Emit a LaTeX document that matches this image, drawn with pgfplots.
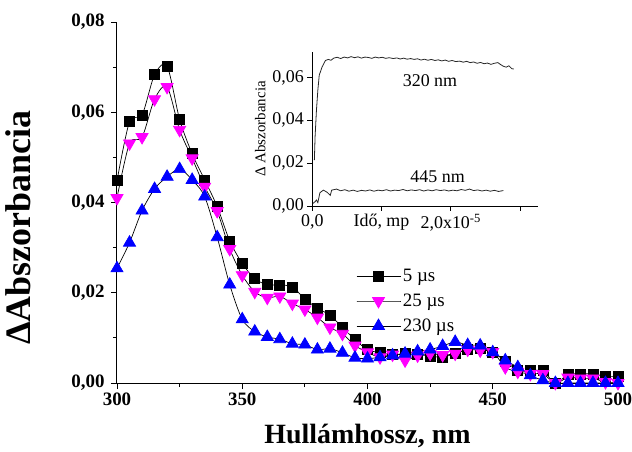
\documentclass[border=0pt]{standalone}
\usepackage{fontspec}
\setmainfont{Liberation Serif}
\usepackage{pgfplots}
\pgfplotsset{compat=1.18}
\definecolor{mag}{RGB}{255,0,255}
\definecolor{blu}{RGB}{0,0,255}
\pgfplotsset{longleg/.style={legend image code/.code={\draw[mark repeat=2, mark phase=2, ##1]
    plot coordinates {(0bp,0bp) (22bp,0bp) (44bp,0bp)};}}}

% spectra at 5, 25 and 230 us
\pgfplotstableread{
nm    a      b      c
300 0.0448 0.0410 0.0254
305 0.0579 0.0531 0.0311
310 0.0594 0.0545 0.0382
315 0.0683 0.0629 0.0430
320 0.0702 0.0656 0.0457
325 0.0584 0.0561 0.0474
330 0.0508 0.0498 0.0450
335 0.0450 0.0435 0.0413
340 0.0391 0.0381 0.0323
345 0.0315 0.0297 0.0218
350 0.0265 0.0239 0.0141
355 0.0231 0.0202 0.0114
360 0.0218 0.0189 0.0102
365 0.0217 0.0192 0.0097
370 0.0213 0.0176 0.0087
375 0.0186 0.0163 0.0085
380 0.0166 0.0145 0.0074
385 0.0150 0.0123 0.0076
390 0.0123 0.0109 0.0067
395 0.0096 0.0083 0.0056
400 0.0074 0.0068 0.0054
405 0.0067 0.0057 0.0057
410 0.0063 0.0063 0.0061
415 0.0065 0.0050 0.0065
420 0.0063 0.0061 0.0070
425 0.0060 0.0065 0.0074
430 0.0057 0.0062 0.0082
435 0.0066 0.0065 0.0091
440 0.0074 0.0074 0.0084
445 0.0077 0.0072 0.0083
450 0.0068 0.0069 0.0068
455 0.0049 0.0035 0.0050
460 0.0028 0.0025 0.0035
465 0.0027 0.0020 0.0017
470 0.0027 0.0020 0.0006
475 0.0000 0.0000 0.0000
480 0.0019 0.0012 0.0000
485 0.0020 0.0010 0.0000
490 0.0020 0.0010 0.0000
495 0.0015 0.0002 0.0000
500 0.0015 0.0000 0.0000
}\spectra

\begin{document}
\begin{tikzpicture}
% page frame: 632 x 452, main axis box from (117,22) to (618,383)
\useasboundingbox (-117bp,-69bp) rectangle (515bp,383bp);
\begin{axis}[
    name=main,
    scale only axis,
    width=501bp, height=361bp,
    xmin=300, xmax=500, ymin=0, ymax=0.08,
    axis x line*=bottom, axis y line*=left,
    axis line style={-, line width=1pt},
    tick align=outside,
    major tick length=6bp, minor tick length=4bp,
    tick style={black, line width=0.8pt},
    xtick={300,350,400,450,500},
    minor xtick={325,375,425,475},
    ytick={0,0.02,0.04,0.06,0.08},
    minor ytick={0.01,0.03,0.05,0.07},
    scaled y ticks=false,
    ticklabel style={font=\fontsize{19}{22}\selectfont\bfseries},
    yticklabel style={xshift=-3bp, /pgf/number format/.cd, fixed, fixed zerofill, precision=2, use comma, assume math mode=true},
    xticklabel style={/pgf/number format/assume math mode=true},
    xlabel={Hullámhossz, nm},
    ylabel={ΔAbszorbancia},
    xlabel style={at={(axis description cs:0.5,-0.147)}, anchor=center,
        font=\fontsize{28}{30}\selectfont\bfseries},
    ylabel style={at={(axis description cs:-0.198,0.43)}, anchor=center,
        font=\fontsize{36}{40}\selectfont\bfseries},
    legend style={draw=none, fill=none, at={(rel axis cs:0.471,0.327)}, anchor=north west,
        font=\fontsize{19}{23}\selectfont, row sep=7pt},
    legend cell align=left,
]
\addplot[black, line width=0.7pt, smooth, tension=0.5, longleg, mark=square*, mark size=5bp,
    mark options={solid, fill=black, draw=black}] table[x=nm, y=a] {\spectra};
\addlegendentry{5 µs}
\addplot[black, line width=0.7pt, smooth, tension=0.5, longleg, mark=triangle*, mark size=7bp,
    mark options={solid, fill=mag, draw=mag, rotate=180}] table[x=nm, y=b] {\spectra};
\addlegendentry{25 µs}
\addplot[black, line width=0.7pt, smooth, tension=0.5, longleg, mark=triangle*, mark size=7bp,
    mark options={solid, fill=blu, draw=blu}] table[x=nm, y=c] {\spectra};
\addlegendentry{230 µs}
\end{axis}

% inset: kinetic traces
\begin{axis}[
    at={(main.south west)}, anchor=south west,
    xshift=195.3bp, yshift=177bp,
    scale only axis,
    width=225.7bp, height=154.3bp,
    xmin=0, xmax=3.26, ymin=0, ymax=0.072,
    axis x line*=bottom, axis y line*=left,
    axis line style={-, line width=0.6pt},
    tick align=outside,
    major tick length=5bp,
    tick style={black, line width=0.6pt},
    xtick={0,1,2,3},
    xticklabels={0{,}0, Idő{,} mp, 2{,}0x10\textsuperscript{-5}, {}},
    ytick={0,0.02,0.04,0.06},
    scaled y ticks=false,
    ticklabel style={font=\fontsize{18}{20}\selectfont},
    yticklabel style={/pgf/number format/.cd, fixed, fixed zerofill, precision=2, use comma, assume math mode=true},
    ylabel={Δ Abszorbancia},
    ylabel style={font=\fontsize{15}{17}\selectfont},
]
\addplot[black!85, line width=0.8pt] coordinates {
(0.03,0.0214)(0.04,0.0322)(0.06,0.0447)(0.08,0.0540)(0.10,0.0610)(0.14,0.0648)
(0.19,0.0679)(0.23,0.0684)(0.27,0.0680)(0.31,0.0690)(0.36,0.0694)(0.41,0.0688)
(0.46,0.0695)(0.51,0.0691)(0.56,0.0697)(0.61,0.0692)(0.66,0.0696)(0.71,0.0690)
(0.76,0.0695)(0.81,0.0693)(0.86,0.0689)(0.91,0.0695)(0.96,0.0691)(1.01,0.0694)
(1.06,0.0689)(1.11,0.0692)(1.17,0.0688)(1.22,0.0691)(1.27,0.0686)(1.32,0.0690)
(1.37,0.0685)(1.42,0.0688)(1.47,0.0684)(1.52,0.0687)(1.57,0.0681)(1.62,0.0685)
(1.67,0.0680)(1.72,0.0684)(1.77,0.0679)(1.82,0.0682)(1.87,0.0677)(1.92,0.0681)
(1.97,0.0675)(2.02,0.0679)(2.07,0.0674)(2.13,0.0676)(2.18,0.0671)(2.23,0.0675)
(2.28,0.0669)(2.33,0.0672)(2.38,0.0666)(2.43,0.0670)(2.48,0.0664)(2.53,0.0667)
(2.58,0.0661)(2.63,0.0666)(2.68,0.0669)(2.72,0.0660)(2.76,0.0652)(2.80,0.0648)
(2.84,0.0654)(2.88,0.0641)(2.91,0.0639)
};
\addplot[black!85, line width=0.8pt] coordinates {
(0.01,0.0012)(0.04,0.0020)(0.06,0.0028)(0.08,0.0016)(0.11,0.0062)(0.16,0.0074)
(0.21,0.0065)(0.26,0.0050)(0.28,0.0074)(0.35,0.0079)(0.41,0.0071)(0.47,0.0076)
(0.53,0.0069)(0.59,0.0074)(0.65,0.0068)(0.71,0.0073)(0.77,0.0070)(0.83,0.0075)
(0.89,0.0069)(0.95,0.0074)(1.01,0.0071)(1.07,0.0076)(1.13,0.0070)(1.19,0.0074)
(1.25,0.0072)(1.31,0.0077)(1.37,0.0071)(1.43,0.0075)(1.49,0.0072)(1.55,0.0076)
(1.61,0.0070)(1.67,0.0075)(1.73,0.0071)(1.79,0.0076)(1.85,0.0072)(1.91,0.0075)
(1.97,0.0070)(2.03,0.0074)(2.09,0.0071)(2.15,0.0077)(2.21,0.0073)(2.27,0.0079)
(2.33,0.0072)(2.39,0.0075)(2.45,0.0070)(2.51,0.0074)(2.57,0.0069)(2.63,0.0073)
(2.69,0.0068)(2.76,0.0072)
};
\node[font=\fontsize{18}{20}\selectfont] at (axis cs:1.70,0.0586) {320 nm};
\node[font=\fontsize{18}{20}\selectfont] at (axis cs:1.81,0.0135) {445 nm};
\end{axis}
\end{tikzpicture}
\end{document}
